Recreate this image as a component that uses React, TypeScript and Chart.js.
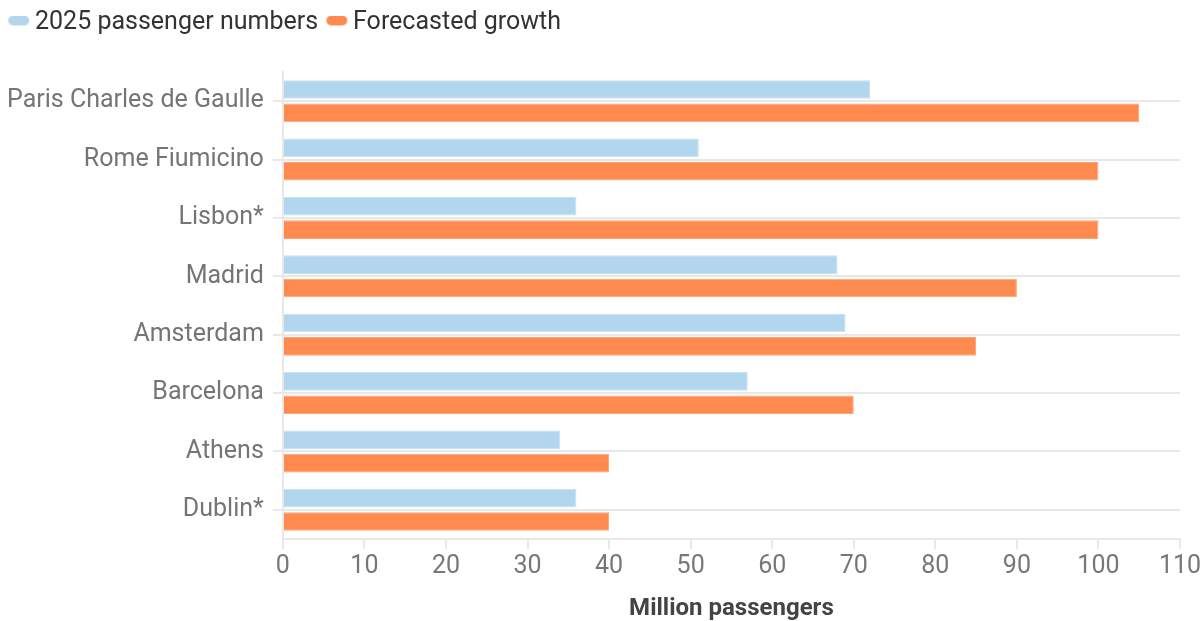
import React, { useEffect, useRef } from "react";
import { Chart, registerables } from "chart.js";

Chart.register(...registerables);

const categories = [
  "Paris Charles de Gaulle",
  "Rome Fiumicino",
  "Lisbon*",
  "Madrid",
  "Amsterdam",
  "Barcelona",
  "Athens",
  "Dublin*",
];
const passengers2025 = [72, 51, 36, 68, 69, 57, 34, 36];
const forecastGrowth = [105, 100, 100, 90, 85, 70, 40, 40];
const xTicks = [0, 10, 20, 30, 40, 50, 60, 70, 80, 90, 100, 110];
const seriesColors = ["#b3d6ef", "#ff8a50"];
const seriesBorders = ["#c6e1f4", "#ffa274"];

function legendSwatch(color: string) {
  const c = document.createElement("canvas");
  c.width = 42;
  c.height = 14;
  const g = c.getContext("2d")!;
  g.fillStyle = color;
  g.beginPath();
  (g as any).roundRect(14, 0, 21, 10, 5);
  g.fill();
  return c;
}

export default function App() {
  const ref = useRef<HTMLCanvasElement | null>(null);
  useEffect(() => {
    if (!ref.current) return;
    const swatches = seriesColors.map(legendSwatch);
    const chart = new Chart(ref.current, {
      type: "bar",
      data: {
        labels: categories,
        datasets: [
          {
            label: "2025 passenger numbers",
            data: passengers2025,
            backgroundColor: seriesColors[0],
            borderColor: seriesBorders[0],
            borderWidth: 1,
          },
          {
            label: "Forecasted growth",
            data: forecastGrowth,
            backgroundColor: seriesColors[1],
            borderColor: seriesBorders[1],
            borderWidth: 1,
          },
        ],
      },
      options: {
        indexAxis: "y",
        animation: false,
        responsive: true,
        maintainAspectRatio: false,
        datasets: { bar: { categoryPercentage: 0.8, barPercentage: 0.8 } },
        layout: { padding: { top: 2, right: 0, bottom: 0, left: 0 } },
        plugins: {
          legend: {
            position: "top",
            align: "start",
            labels: {
              font: { family: "Roboto", size: 25 },
              color: "#333",
              usePointStyle: true,
              pointStyleWidth: 14.5,
              boxHeight: 10,
              padding: 8,
              generateLabels: (ch: any) =>
                Chart.defaults.plugins.legend.labels
                  .generateLabels(ch)
                  .map((item: any, i: number) => ({ ...item, pointStyle: swatches[i] })),
            },
          },
          title: {
            display: true,
            text: "",
            weight: 500,
            font: { size: 1, lineHeight: 1 },
            padding: { top: 26, bottom: 0 },
          },
          tooltip: { enabled: false },
        },
        scales: {
          x: {
            min: 0,
            max: 110,
            afterBuildTicks: (s: any) => {
              s.ticks = xTicks.map((v) => ({ value: v }));
            },
            afterFit: (s: any) => {
              s.paddingRight = 23;
            },
            ticks: {
              font: { family: "Roboto", size: 25 },
              color: "#777",
              padding: 3,
            },
            grid: {
              drawOnChartArea: false,
              drawTicks: true,
              tickLength: 10,
              color: "#e8e8e8",
              lineWidth: 2,
            },
            border: { display: true, color: "#e8e8e8", width: 2 },
            title: {
              display: true,
              text: "Million passengers",
              font: { family: "Roboto", size: 24, weight: "bold", lineHeight: 1 },
              color: "#444",
              padding: { top: 12, bottom: 0 },
            },
          },
          y: {
            afterFit: (s: any) => {
              s.width -= 2;
            },
            ticks: {
              font: { family: "Roboto", size: 25 },
              color: "#757575",
              padding: 9,
            },
            grid: {
              offset: false,
              color: "#e8e8e8",
              lineWidth: 2,
              tickLength: 10,
            },
            border: { display: true, color: "#e8e8e8", width: 2 },
          },
        },
      },
    });
    return () => chart.destroy();
  }, []);
  return (
    <div style={{ position: "absolute", left: 0, top: 0, width: 1203, height: 621 }}>
      <canvas ref={ref} />
    </div>
  );
}
